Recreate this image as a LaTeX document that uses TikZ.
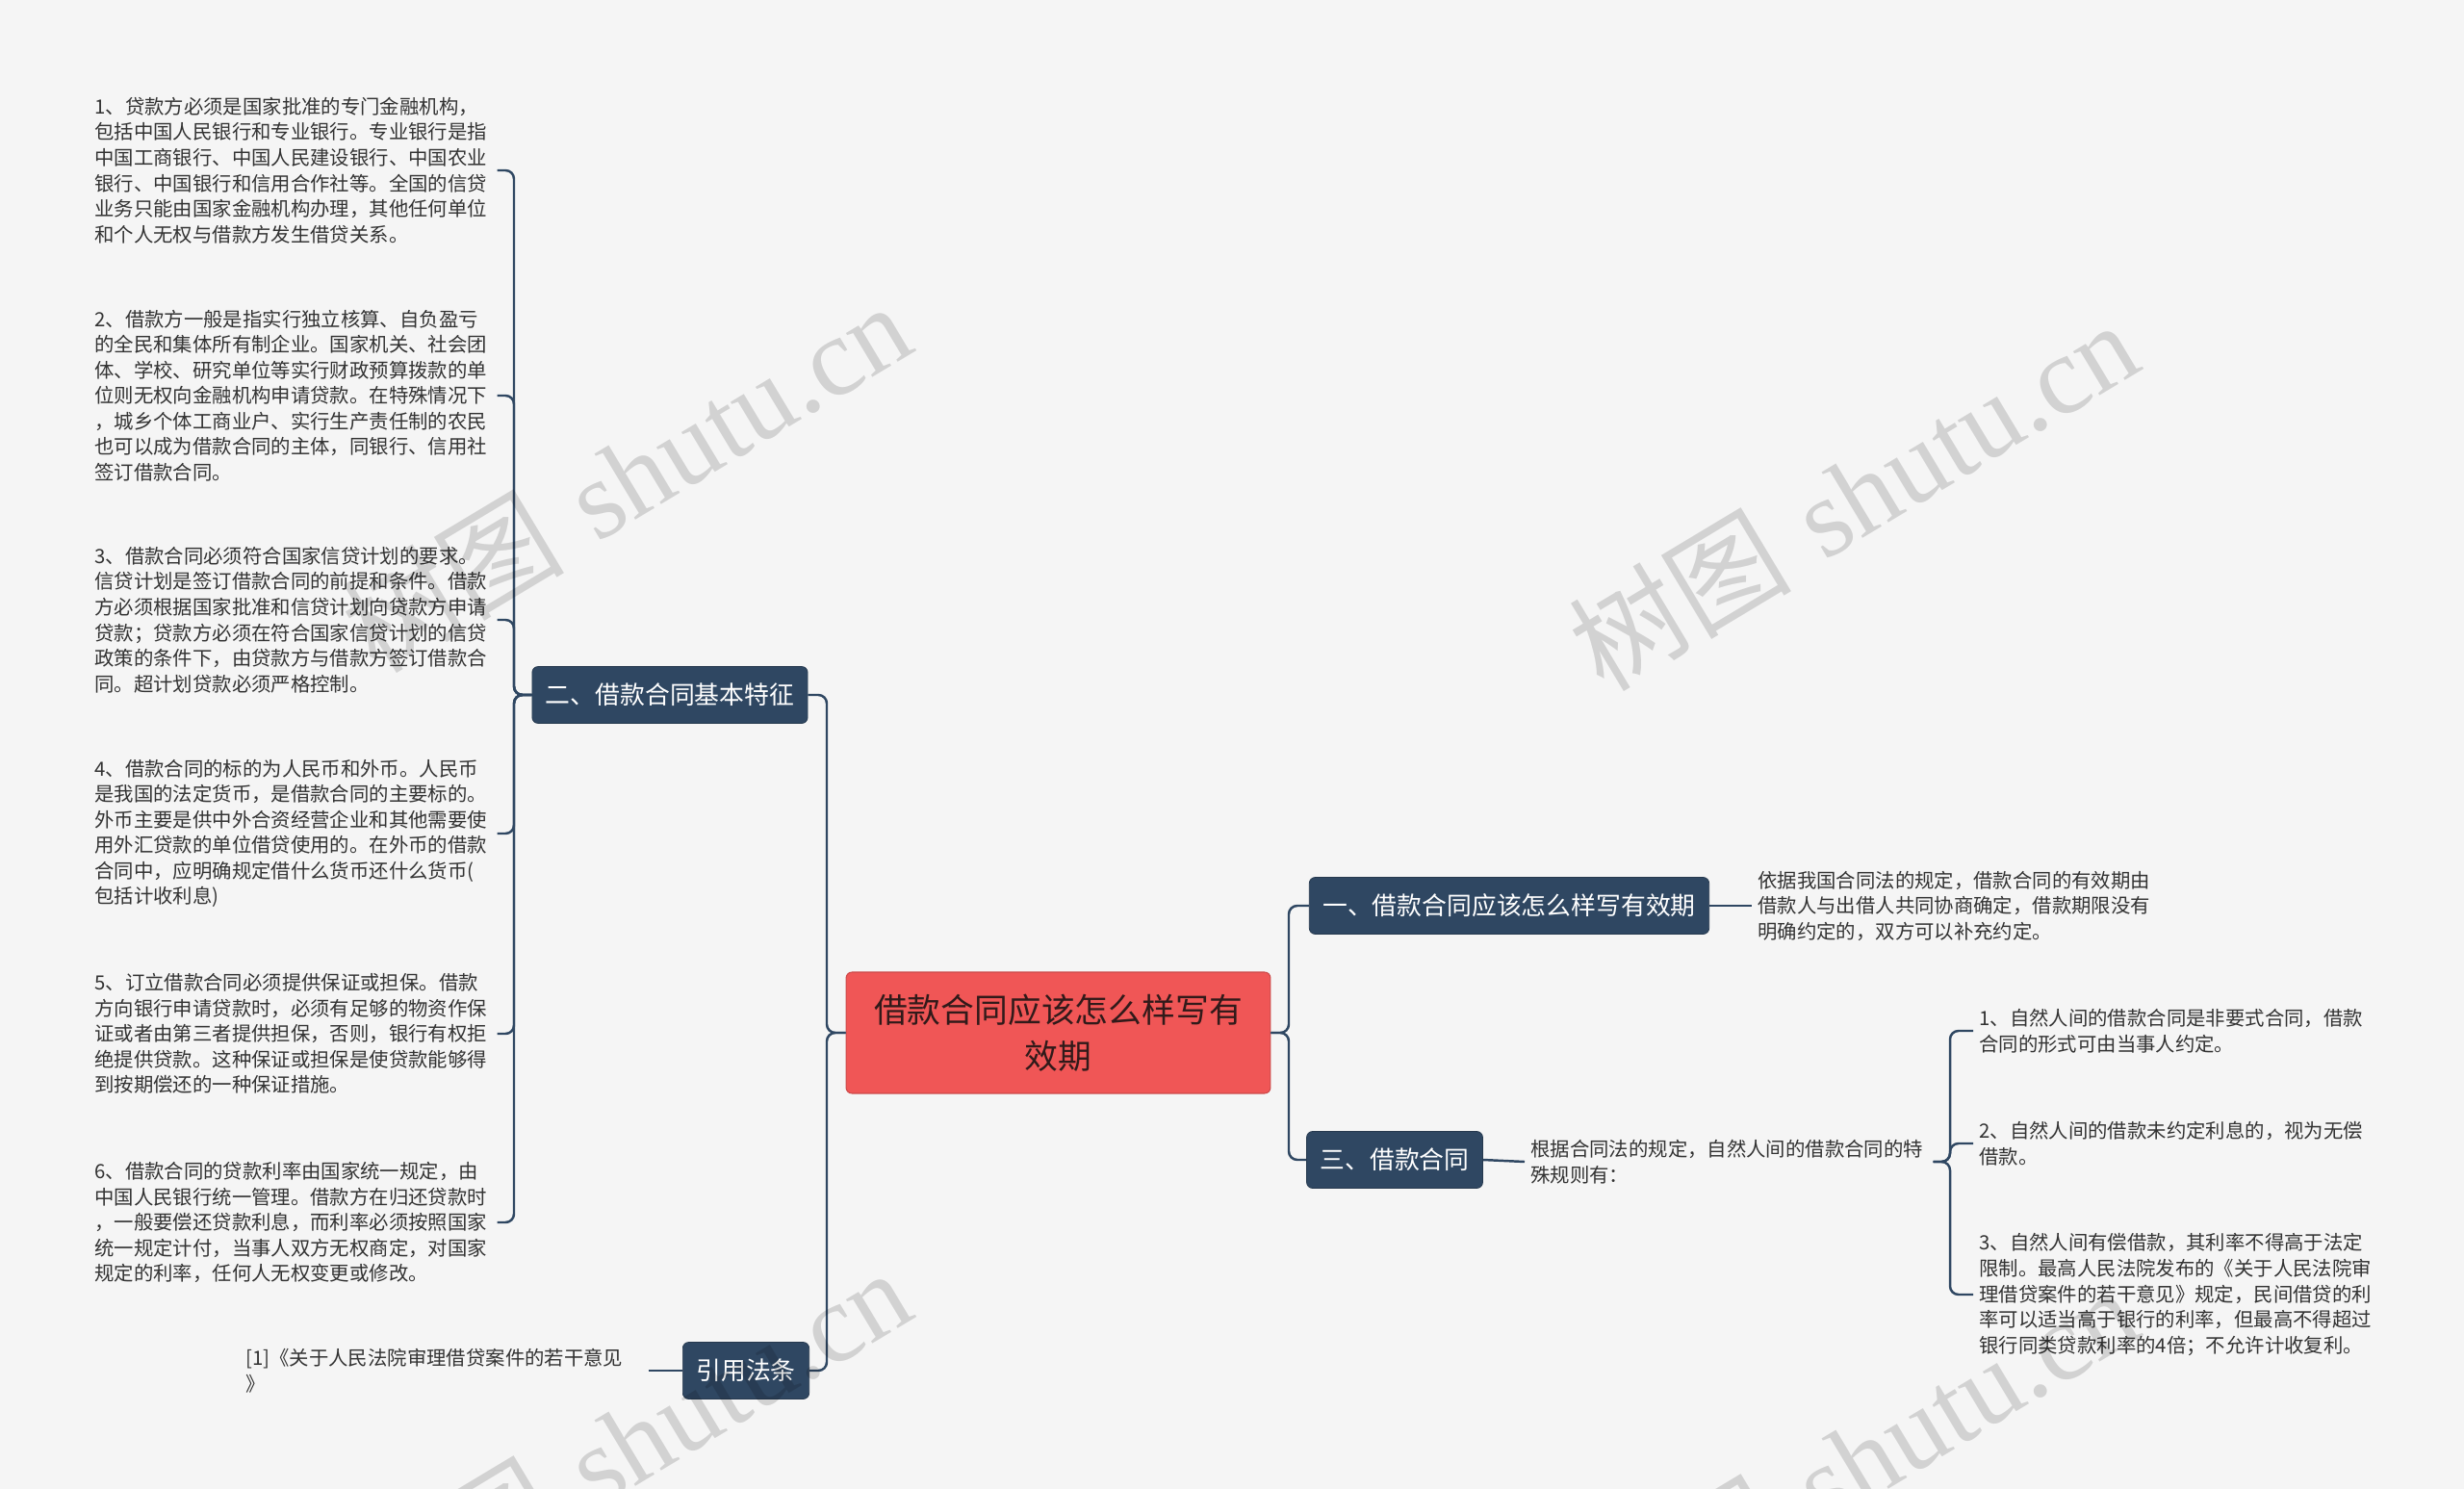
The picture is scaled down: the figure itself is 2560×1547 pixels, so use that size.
\documentclass[tikz,border=0pt]{standalone}
\usepackage{fontspec}
\newfontfamily\cjk{Noto Sans CJK SC}
\newfontfamily\serifW{Liberation Serif}
\definecolor{sfondo}{HTML}{F5F5F5}
\definecolor{blu}{HTML}{2F4762}
\definecolor{rosso}{HTML}{F05656}
\definecolor{testo}{HTML}{333333}

\begin{document}
\begin{tikzpicture}[
    x=0.02cm, y=-0.02cm,
    linea/.style={draw=blu,line width=1.4pt,rounded corners=5pt},
    radice/.style={fill=rosso,draw=rosso!85!black,line width=0.6pt,rounded corners=3.5pt,
      minimum width=8.82cm,minimum height=2.52cm,text width=8cm,align=center,
      text=testo!85!red!60!black,font={\cjk\fontsize{19.8pt}{27.2pt}\selectfont}},
    ramo/.style={fill=blu,draw=blu!80!black,rounded corners=3.5pt,text=white,
      minimum height=1.18cm,inner xsep=0.28cm,font={\cjk\fontsize{14.7pt}{18pt}\selectfont}},
    foglia/.style={text=testo,align=left,text width=8.24cm,inner xsep=0.12cm,inner ysep=0pt,
      font={\cjk\fontsize{11.6pt}{15.1pt}\selectfont}},
    filigrana/.style={text=black,opacity=0.14,rotate=31,font={\fontsize{66pt}{70pt}\selectfont}}]

  \useasboundingbox (0,0) rectangle (2560,1547);
  \fill[sfondo] (0,0) rectangle (2560,1547);

  % ---- radice ---------------------------------------------------------------
  \node[radice] (root) at (1099.5,1073) {借款合同应该怎么样写有\\效期};

  % ---- rami ------------------------------------------------------------------
  \node[ramo] (b2) at (696,722)   {二、借款合同基本特征};
  \node[ramo] (b4) at (775,1424)  {引用法条};
  \node[ramo] (b1) at (1568,941)  {一、借款合同应该怎么样写有效期};
  \node[ramo] (b3) at (1449,1205) {三、借款合同};

  \coordinate (tL) at (859,1073);
  \coordinate (tR) at (1339,1073);
  \draw[linea] (root.west) -- (tL) |- (b2.east);
  \draw[linea] (root.west) -- (tL) |- (b4.east);
  \draw[linea] (root.east) -- (tR) |- (b1.west);
  \draw[linea] (root.east) -- (tR) |- (b3.west);

  % ---- foglie a sinistra: caratteristiche -----------------------------------
  \node[foglia,anchor=west] (f1) at (92,177) {1、贷款方必须是国家批准的专门金融机构，\\
    包括中国人民银行和专业银行。专业银行是指\\
    中国工商银行、中国人民建设银行、中国农业\\
    银行、中国银行和信用合作社等。全国的信贷\\
    业务只能由国家金融机构办理，其他任何单位\\
    和个人无权与借款方发生借贷关系。};
  \node[foglia,anchor=west] (f2) at (92,411) {2、借款方一般是指实行独立核算、自负盈亏\\
    的全民和集体所有制企业。国家机关、社会团\\
    体、学校、研究单位等实行财政预算拨款的单\\
    位则无权向金融机构申请贷款。在特殊情况下\\
    ，城乡个体工商业户、实行生产责任制的农民\\
    也可以成为借款合同的主体，同银行、信用社\\
    签订借款合同。};
  \node[foglia,anchor=west] (f3) at (92,644) {3、借款合同必须符合国家信贷计划的要求。\\
    信贷计划是签订借款合同的前提和条件。借款\\
    方必须根据国家批准和信贷计划向贷款方申请\\
    贷款；贷款方必须在符合国家信贷计划的信贷\\
    政策的条件下，由贷款方与借款方签订借款合\\
    同。超计划贷款必须严格控制。};
  \node[foglia,anchor=west] (f4) at (92,866) {4、借款合同的标的为人民币和外币。人民币\\
    是我国的法定货币，是借款合同的主要标的。\\
    外币主要是供中外合资经营企业和其他需要使\\
    用外汇贷款的单位借贷使用的。在外币的借款\\
    合同中，应明确规定借什么货币还什么货币(\\
    包括计收利息)};
  \node[foglia,anchor=west] (f5) at (92,1074) {5、订立借款合同必须提供保证或担保。借款\\
    方向银行申请贷款时，必须有足够的物资作保\\
    证或者由第三者提供担保，否则，银行有权拒\\
    绝提供贷款。这种保证或担保是使贷款能够得\\
    到按期偿还的一种保证措施。};
  \node[foglia,anchor=west] (f6) at (92,1270) {6、借款合同的贷款利率由国家统一规定，由\\
    中国人民银行统一管理。借款方在归还贷款时\\
    ，一般要偿还贷款利息，而利率必须按照国家\\
    统一规定计付，当事人双方无权商定，对国家\\
    规定的利率，任何人无权变更或修改。};

  \coordinate (jL) at (534,722);
  \foreach \f in {f1,f2,f3,f4,f5,f6}
    \draw[linea] (b2.west) -- (jL) |- (\f.east);

  % ---- foglia: riferimento --------------------------------------------------
  \node[foglia,anchor=west] (rif) at (249,1424) {[1]《关于人民法院审理借贷案件的若干意见\\》};
  \draw[linea] (rif.east) -- (b4.west);

  % ---- foglie a destra -------------------------------------------------------
  \node[foglia,anchor=west] (d1) at (1820,941) {依据我国合同法的规定，借款合同的有效期由\\
    借款人与出借人共同协商确定，借款期限没有\\
    明确约定的，双方可以补充约定。};
  \draw[linea] (b1.east) -- (d1.west);

  \node[foglia,anchor=west] (r0) at (1584,1207) {根据合同法的规定，自然人间的借款合同的特\\
    殊规则有：};
  \draw[linea] (b3.east) -- (r0.west);

  \node[foglia,anchor=west] (r1) at (2050,1071) {1、自然人间的借款合同是非要式合同，借款\\
    合同的形式可由当事人约定。};
  \node[foglia,anchor=west] (r2) at (2050,1188) {2、自然人间的借款未约定利息的，视为无偿\\
    借款。};
  \node[foglia,anchor=west] (r3) at (2050,1345) {3、自然人间有偿借款，其利率不得高于法定\\
    限制。最高人民法院发布的《关于人民法院审\\
    理借贷案件的若干意见》规定，民间借贷的利\\
    率可以适当高于银行的利率，但最高不得超过\\
    银行同类贷款利率的4倍；不允许计收复利。};

  \coordinate (jR) at (2026,1207);
  \foreach \r in {r1,r2,r3}
    \draw[linea] (r0.east) -- (jR) |- (\r.west);

  % ---- filigrana --------------------------------------------------------------
  \foreach \wx/\wy [count=\i] in {650/495,1925/514,650/1499,1925/1518}
    \node[filigrana] (wm\i) at (\wx,\wy) {{\cjk 树图} {\serifW shutu.cn}};

\end{tikzpicture}
\end{document}
